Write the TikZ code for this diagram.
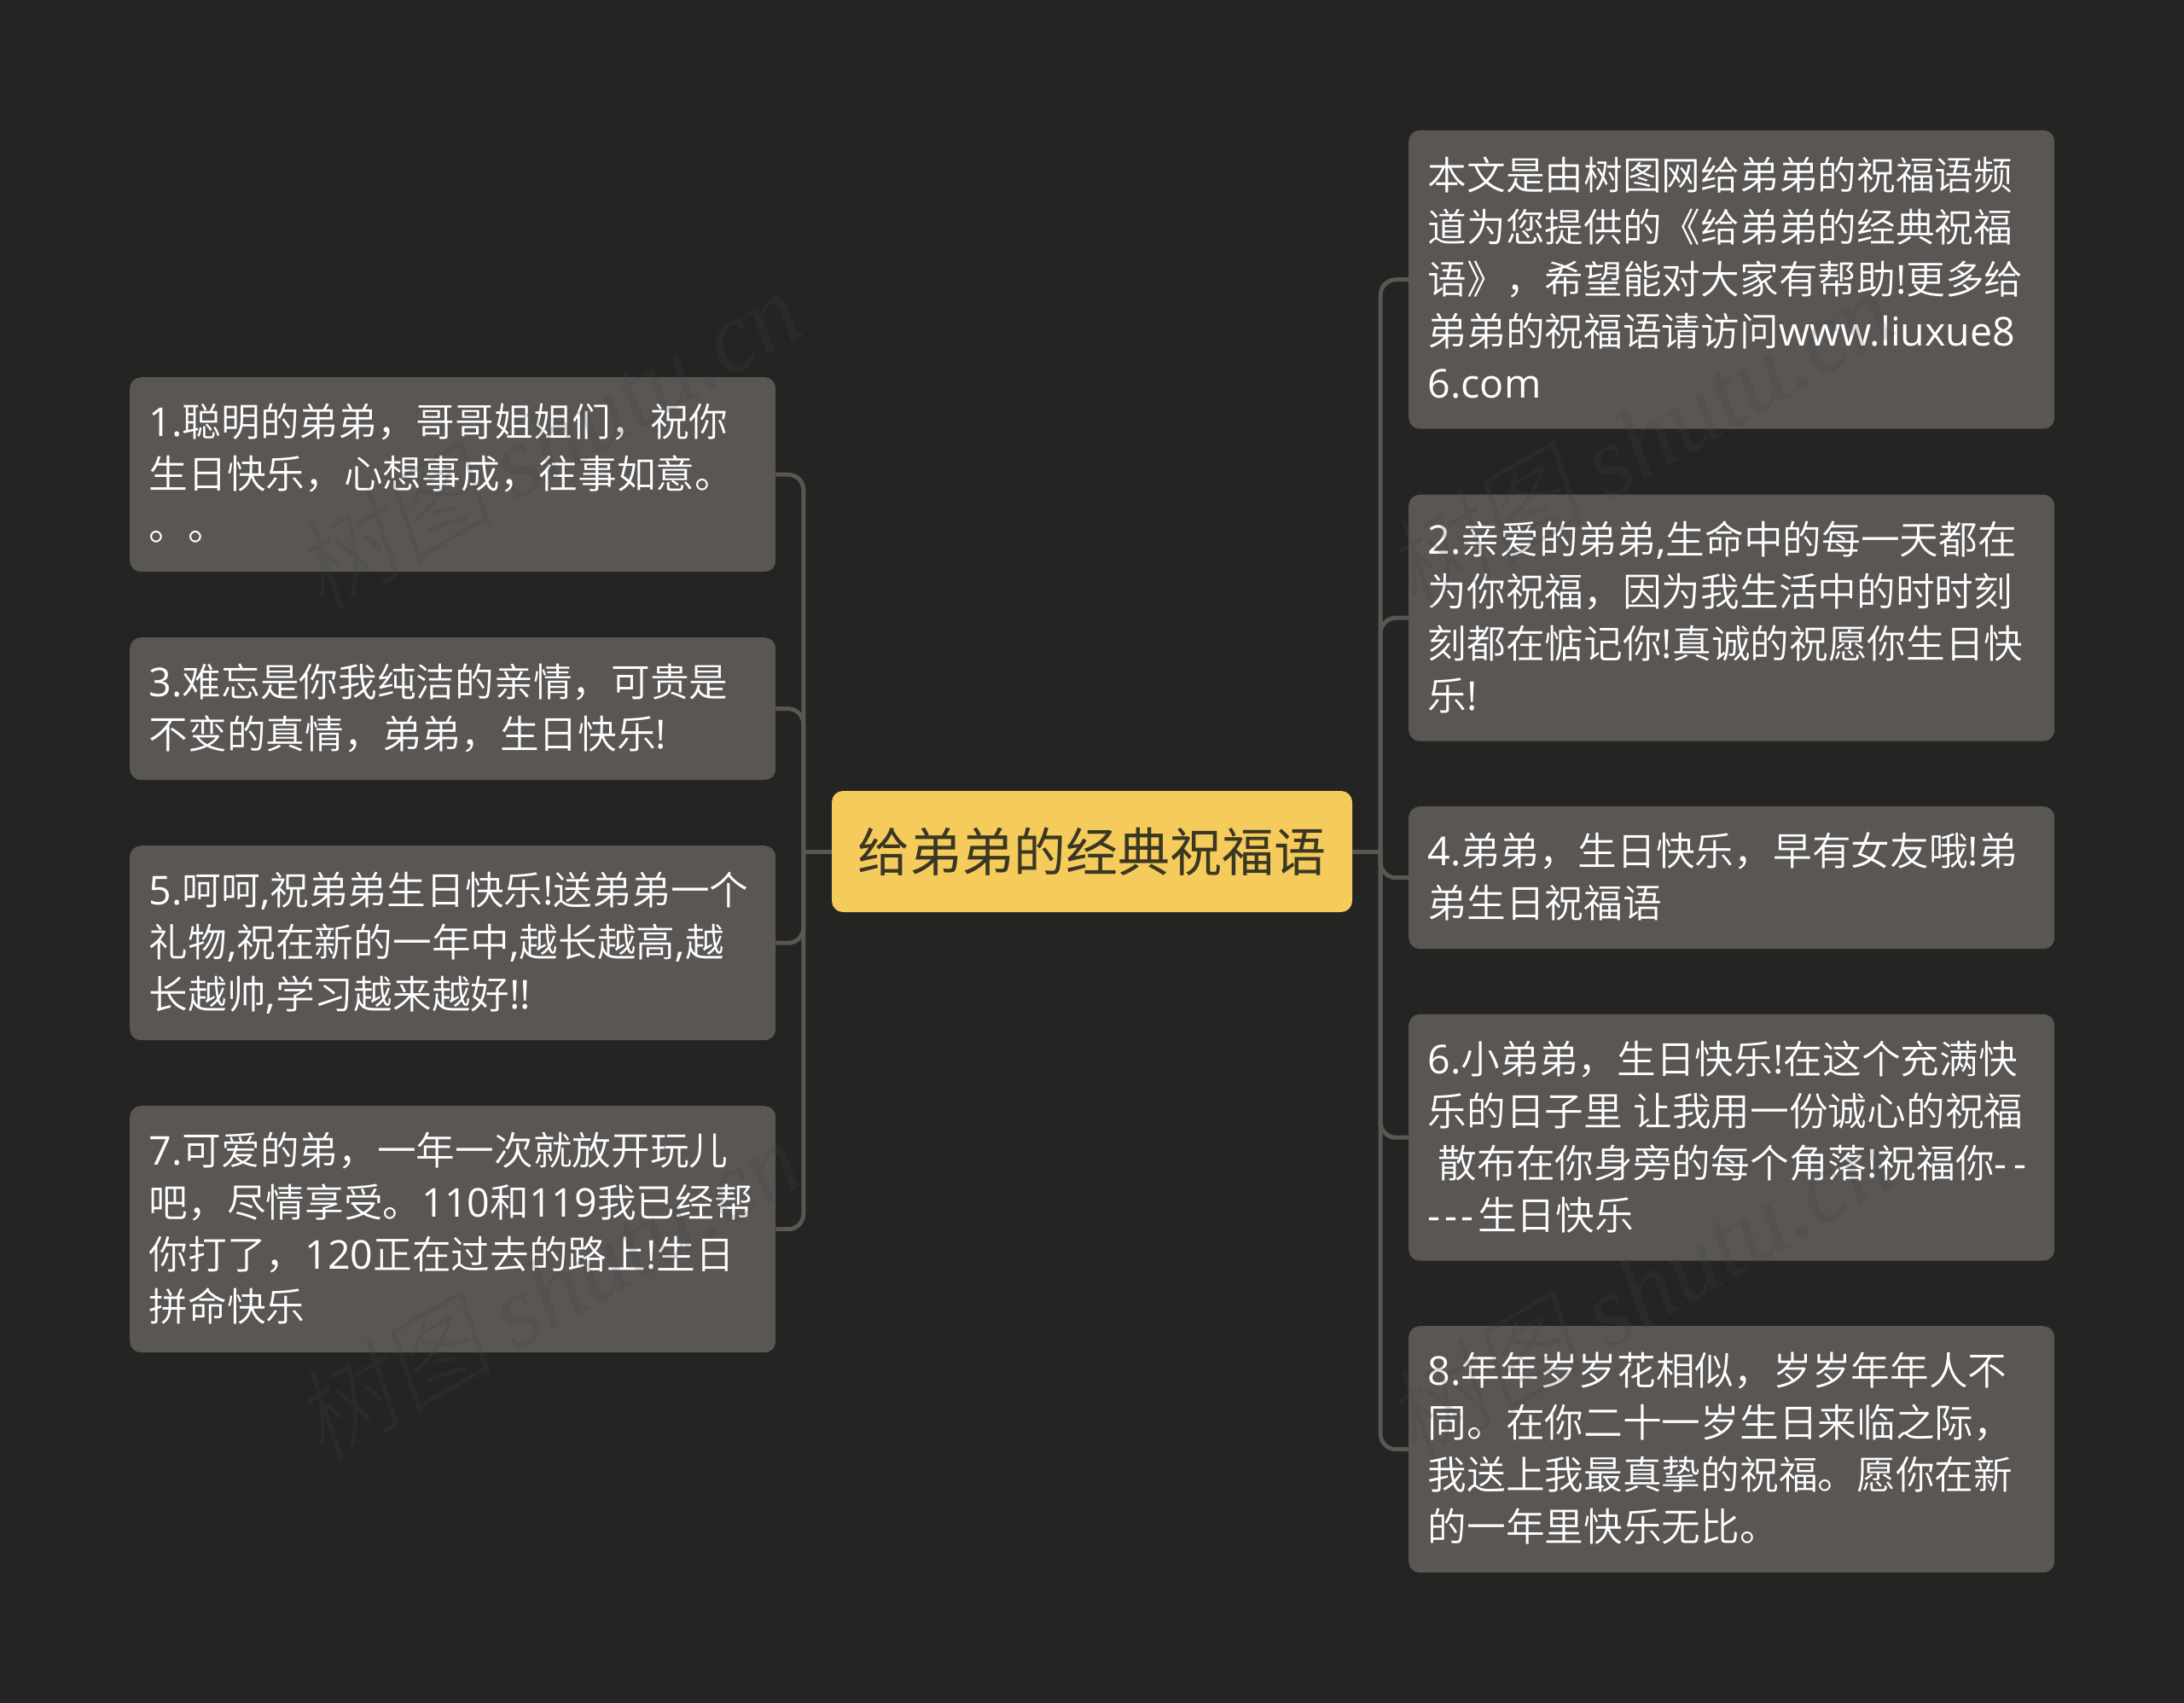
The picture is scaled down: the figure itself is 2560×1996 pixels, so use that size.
\documentclass[tikz,border=0pt]{standalone}
\usepackage{fontspec}
\setmainfont{Noto Sans CJK SC DemiLight}
\newfontfamily\latf[Scale=1.02]{Open Sans}
\newfontfamily\rootf{Noto Sans CJK SC}
\newfontfamily\wmcjk[FakeSlant=0.2]{Noto Sans CJK SC Light}
\newfontfamily\wmlat{Liberation Serif Italic}
\newcommand\La[1]{{\latf #1}}
\newcommand\Da{{\latf -}\kern4.5pt}
\newcommand\lstrut{\rule[-14pt]{0pt}{61pt}}
\definecolor{bgc}{HTML}{242423}
\definecolor{boxc}{HTML}{595654}
\definecolor{linec}{HTML}{595654}
\definecolor{rootc}{HTML}{F5CB5C}
\definecolor{roott}{HTML}{3A3722}
\definecolor{wmc}{HTML}{444444}
\tikzset{
  leaf/.style={anchor=north west,fill=boxc,rounded corners=13pt,text=white,
    text width=712pt,align=left,inner xsep=22.5pt,inner ysep=22.5pt,
    font=\fontsize{45.7pt}{61pt}\selectfont,
    execute at begin node={\lstrut},execute at end node={\lstrut}},
  rootbox/.style={anchor=center,fill=rootc,rounded corners=13pt,text=roott,
    minimum width=610pt,minimum height=142pt,inner sep=0pt,
    font=\rootf\fontsize{61pt}{70pt}\selectfont},
  conn/.style={draw=linec,line width=5pt},
  connr/.style={conn,rounded corners=18pt},
  wm/.style={rotate=30,text=wmc,opacity=0.2,inner sep=0pt,
    font=\fontsize{118pt}{120pt}\selectfont}
}
\begin{document}
\begin{tikzpicture}[x=1pt,y=-1pt]
\useasboundingbox (0,0) rectangle (2560,1996);
\fill[bgc] (0,0) rectangle (2560,1996);
\node[rootbox] (c) at (1280,998) {给弟弟的经典祝福语};
\node[leaf] (n1) at (152,442) {\La{1.}聪明的弟弟，哥哥姐姐们，祝你\\生日快乐，心想事成，往事如意。\\。。};
\node[leaf] (n3) at (152,747) {\La{3.}难忘是你我纯洁的亲情，可贵是\\不变的真情，弟弟，生日快乐\La{!}};
\node[leaf] (n5) at (152,991) {\La{5.}呵呵\La{,}祝弟弟生日快乐\La{!}送弟弟一个\\礼物\La{,}祝在新的一年中\La{,}越长越高\La{,}越\\长越帅\La{,}学习越来越好\La{!!}};
\node[leaf] (n7) at (152,1296) {\La{7.}可爱的弟，一年一次就放开玩儿\\吧，尽情享受。\La{110}和\La{119}我已经帮\\你打了，\La{120}正在过去的路上\La{!}生日\\拼命快乐};
\node[leaf] (n0) at (1651,152.5) {本文是由树图网给弟弟的祝福语频\\道为您提供的《给弟弟的经典祝福\\语》，希望能对大家有帮助\La{!}更多给\\弟弟的祝福语请访问\La{www.liuxue8}\\\La{6.com}};
\node[leaf] (n2) at (1651,579.5) {\La{2.}亲爱的弟弟\La{,}生命中的每一天都在\\为你祝福，因为我生活中的时时刻\\刻都在惦记你\La{!}真诚的祝愿你生日快\\乐\La{!}};
\node[leaf] (n4) at (1651,945) {\La{4.}弟弟，生日快乐，早有女友哦\La{!}弟\\弟生日祝福语};
\node[leaf] (n6) at (1651,1188.5) {\La{6.}小弟弟，生日快乐\La{!}在这个充满快\\乐的日子里 \kern-3pt 让我用一份诚心的祝福\\\hspace*{12pt}散布在你身旁的每个角落\La{!}祝福你\Da\kern3pt\Da\\\Da\Da\Da 生日快乐};
\node[leaf] (n8) at (1651,1554) {\La{8.}年年岁岁花相似，岁岁年年人不\\同。在你二十一岁生日来临之际，\\我送上我最真挚的祝福。愿你在新\\的一年里快乐无比。};
\coordinate (bl) at ([xshift=-33pt]c.west);
\coordinate (br) at ([xshift=33pt]c.east);
\draw[conn] (c.west) -- (bl);
\draw[conn] (c.east) -- (br);
\foreach \n in {n1,n3,n5,n7} \draw[connr] (bl) |- (\n.east);
\foreach \n in {n0,n2,n4,n6,n8} \draw[connr] (br) |- (\n.west);
\node[wm] (w1) at (640,515) {{\wmcjk 树图} {\wmlat shutu.cn}};
\node[wm] (w2) at (640,1511) {{\wmcjk 树图} {\wmlat shutu.cn}};
\node[wm] (w3) at (1920,515) {{\wmcjk 树图} {\wmlat shutu.cn}};
\node[wm] (w4) at (1920,1511) {{\wmcjk 树图} {\wmlat shutu.cn}};
\end{tikzpicture}
\end{document}
